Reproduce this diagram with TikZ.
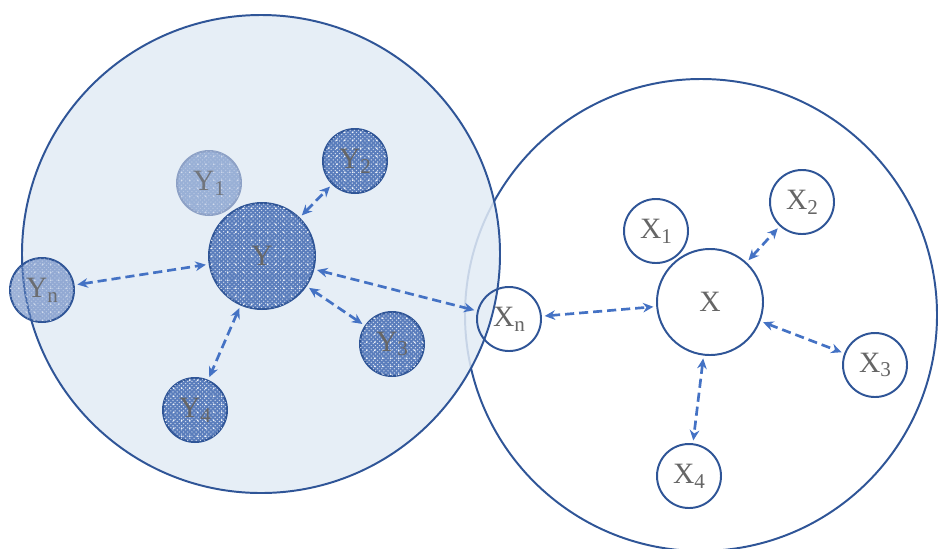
\documentclass[tikz,border=0pt]{standalone}
\usepackage{fontspec}
\setmainfont{Liberation Serif}
\usetikzlibrary{arrows.meta,patterns}

\definecolor{rim}{HTML}{2F5597}
\definecolor{haze}{HTML}{E2EBF5}
\definecolor{arrowblue}{HTML}{4472C4}
\definecolor{dotfill}{HTML}{5A7DBC}
\definecolor{ink}{HTML}{666666}
\newcommand{\lowidx}[1]{\raisebox{-0.35ex}{\fontsize{15}{17}\selectfont #1}}

% sparse white spots over the fine grain
\pgfdeclarepatternformonly{sparkdots}{\pgfpointorigin}{\pgfpoint{5.5pt}{5.5pt}}%
  {\pgfpoint{5.5pt}{5.5pt}}{%
  \pgfpathcircle{\pgfpoint{2.75pt}{2.75pt}}{0.7pt}\pgfusepath{fill}}

\begin{document}
\begin{tikzpicture}[x=0.025cm, y=-0.025cm,
  xnode/.style={draw=rim, line width=1.4pt, circle, fill=white, text=ink,
    font=\fontsize{21}{24}\selectfont, inner sep=0pt, minimum size=1.6cm},
  ynode/.style={xnode, fill=dotfill,
    postaction={pattern=crosshatch dots, pattern color=white!70!dotfill},
    postaction={pattern=sparkdots, pattern color=white}},
  faint/.style={draw=rim!55, fill opacity=0.55, text opacity=0.8},
  duplex/.style={{Stealth[length=2.6mm,width=2.4mm]}-{Stealth[length=2.6mm,width=2.4mm]},
    line width=1.9pt, arrowblue, dash pattern=on 6.5pt off 3.5pt,
    shorten >=2pt, shorten <=2pt}
]
\useasboundingbox (0,0) rectangle (938,548);

% the two groups
\draw[rim, line width=1.4pt] (701,315) circle[radius=236];
\fill[haze, fill opacity=0.85] (261,254) circle[radius=239];
\draw[rim, line width=1.4pt] (261,254) circle[radius=239];

% Y side
\node[ynode, minimum size=2.65cm] (Y) at (262,256) {Y};
\node[ynode, faint] (Y1) at (209,183) {Y\lowidx{1}};
\node[ynode] (Y2) at (355,161) {Y\lowidx{2}};
\node[ynode] (Y3) at (392,344) {Y\lowidx{3}};
\node[ynode] (Y4) at (195,410) {Y\lowidx{4}};
\node[ynode, fill opacity=0.6, text opacity=0.9] (Yn) at (42,290) {Y\lowidx{n}};

% X side
\node[xnode, minimum size=2.65cm] (X) at (710,302) {X};
\node[xnode] (X1) at (656,231) {X\lowidx{1}};
\node[xnode] (X2) at (802,202) {X\lowidx{2}};
\node[xnode] (X3) at (875,365) {X\lowidx{3}};
\node[xnode] (X4) at (689,476) {X\lowidx{4}};
\node[xnode, fill=none] (Xn) at (509,319) {X\lowidx{n}};

\foreach \a/\b in {Yn/Y, Y/Y2, Y/Y3, Y/Y4, Y/Xn, Xn/X, X/X2, X/X3, X/X4}
  \draw[duplex] (\a) -- (\b);

\end{tikzpicture}
\end{document}
